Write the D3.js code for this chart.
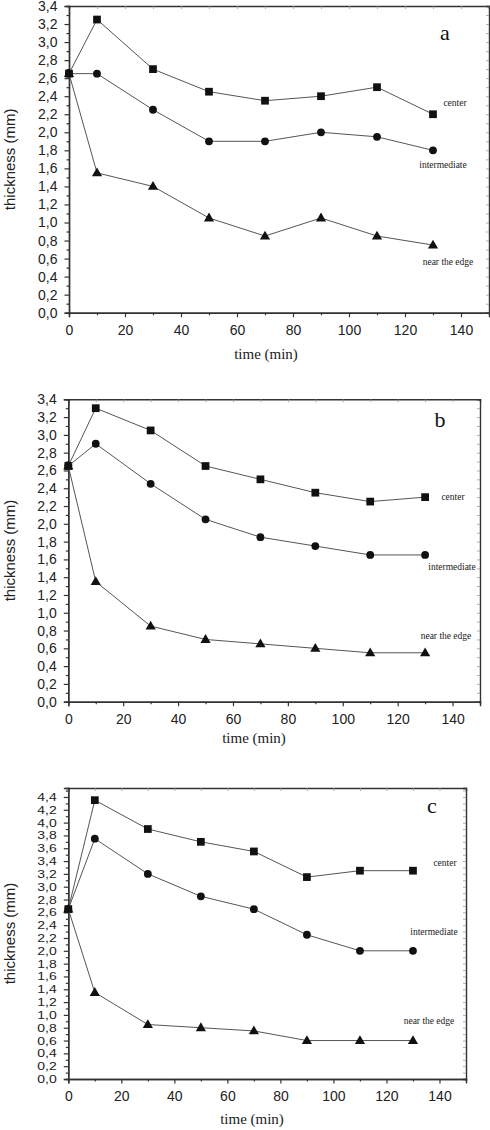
<!DOCTYPE html>
<html>
<head>
<meta charset="utf-8">
<script src="https://cdn.jsdelivr.net/npm/d3@7"></script>
<style>
body { margin: 0; background: #fff; }
svg { display: block; }
.ylab text, .xlab text { font-family: "Liberation Sans", Arial, sans-serif; font-size: 14px; fill: #222; }
.domain { stroke: #333; stroke-width: 1.4; }
.tick line { stroke: #333; stroke-width: 1.2; }
.faint .tick line { stroke: #999; stroke-width: 0.8; }
.serif { font-family: "Liberation Serif", "Times New Roman", serif; fill: #222; }
.sans { font-family: "Liberation Sans", Arial, sans-serif; fill: #222; }
</style>
</head>
<body>
<div id="chart"></div>
<script>
var svgWidth = 490;
var svgHeight = 1130;

// time points (min)
var times = [0, 10, 30, 50, 70, 90, 110, 130];

// panel a
var centerA = [2.65, 3.25, 2.7, 2.45, 2.35, 2.4, 2.5, 2.2];
var interA = [2.65, 2.65, 2.25, 1.9, 1.9, 2.0, 1.95, 1.8];
var edgeA = [2.65, 1.55, 1.4, 1.05, 0.85, 1.05, 0.85, 0.75];

// panel b
var centerB = [2.65, 3.3, 3.05, 2.65, 2.5, 2.35, 2.25, 2.3];
var interB = [2.65, 2.9, 2.45, 2.05, 1.85, 1.75, 1.65, 1.65];
var edgeB = [2.65, 1.35, 0.85, 0.7, 0.65, 0.6, 0.55, 0.55];

// panel c
var centerC = [2.65, 4.35, 3.9, 3.7, 3.55, 3.15, 3.25, 3.25];
var interC = [2.65, 3.75, 3.2, 2.85, 2.65, 2.25, 2.0, 2.0];
var edgeC = [2.65, 1.35, 0.85, 0.8, 0.75, 0.6, 0.6, 0.6];

var xTicks = [0, 20, 40, 60, 80, 100, 120, 140];
var seriesNames = ["center", "intermediate", "near the edge"];

var svg = d3.select("#chart")
  .append("svg")
  .attr("width", svgWidth)
  .attr("height", svgHeight);

var commaFmt = function(d) { return d3.format(".1f")(d).replace(".", ","); };

function drawPanel(p) {
  var x = d3.scaleLinear().domain([0, 150]).range([p.left, p.right]);
  var y = d3.scaleLinear().domain([0, p.ymax]).range([p.bottom, p.top]);

  var yMajor = d3.range(0, p.ylast + 0.001, 0.2).map(v => +v.toFixed(1));
  var yMinor = d3.range(0.1, p.ymax, 0.2).map(v => +v.toFixed(1));
  var yAll = d3.range(0, p.ymax, 0.1).map(v => +v.toFixed(1));
  var xMinor = d3.range(10, 150, 20);

  // frame: top and right with faint inward ticks
  svg.append("g")
    .attr("class", "faint")
    .attr("transform", `translate(0, ${p.top})`)
    .call(d3.axisTop(x).tickValues(d3.range(10, 150, 10)).tickSize(-3).tickFormat(""));
  svg.append("g")
    .attr("class", "faint")
    .attr("transform", `translate(${p.right}, 0)`)
    .call(d3.axisRight(y).tickValues(yAll.slice(1)).tickSize(-3).tickFormat(""));

  // minor ticks
  svg.append("g")
    .attr("transform", `translate(${p.left}, 0)`)
    .call(d3.axisLeft(y).tickValues(yMinor).tickSize(2.5).tickFormat(""));
  svg.append("g")
    .attr("transform", `translate(0, ${p.bottom})`)
    .call(d3.axisBottom(x).tickValues(xMinor).tickSize(2.5).tickFormat(""));

  // major axes
  var yAxis = svg.append("g")
    .attr("class", "ylab")
    .attr("transform", `translate(${p.left}, 0)`)
    .call(d3.axisLeft(y).tickValues(yMajor).tickSize(4.5).tickPadding(7).tickFormat(commaFmt));
  if (p.squash) {
    yAxis.selectAll(".tick text").attr("transform", `scale(1, ${p.squash})`);
  }
  svg.append("g")
    .attr("class", "xlab")
    .attr("transform", `translate(0, ${p.bottom})`)
    .call(d3.axisBottom(x).tickValues(xTicks).tickSize(4.5).tickPadding(8).tickFormat(d3.format("d")));

  // axis titles
  svg.append("text")
    .attr("class", "sans")
    .attr("transform", `translate(15, ${(p.top + p.bottom) / 2}) rotate(-90)`)
    .attr("text-anchor", "middle")
    .style("font-size", "15px")
    .text("thickness (mm)");

  svg.append("text")
    .attr("class", "serif")
    .attr("x", p.titleX)
    .attr("y", p.bottom + p.titleDy)
    .attr("text-anchor", "middle")
    .style("font-size", "15px")
    .text("time (min)");

  // panel letter
  svg.append("text")
    .attr("class", "serif")
    .attr("x", p.letterX)
    .attr("y", p.letterY)
    .attr("text-anchor", "middle")
    .style("font-size", "22px")
    .style("fill", "#111")
    .text(p.letter);

  var line = d3.line()
    .x((d, i) => x(times[i]))
    .y(d => y(d));

  var symbols = [d3.symbolSquare, d3.symbolCircle, d3.symbolTriangle];
  var sizes = [60, 48, 45];

  p.series.forEach(function(vals, k) {
    svg.append("path")
      .datum(vals)
      .attr("d", line)
      .attr("fill", "none")
      .attr("stroke", "#555")
      .attr("stroke-width", 1);

    svg.append("g").selectAll("path")
      .data(vals)
      .enter()
      .append("path")
      .attr("transform", (d, i) => `translate(${x(times[i])}, ${y(d) + (k === 2 ? 0.5 : 0)})`)
      .attr("d", d3.symbol().type(symbols[k]).size(sizes[k]))
      .attr("fill", "#111");

    svg.append("text")
      .attr("class", "serif")
      .attr("x", p.labels[k][0])
      .attr("y", p.labels[k][1])
      .attr("text-anchor", "middle")
      .attr("dy", "0.35em")
      .style("font-size", "9.5px")
      .text(seriesNames[k]);
  });
}

drawPanel({
  left: 69, right: 489, top: 6, bottom: 312.7, ymax: 3.4, ylast: 3.4,
  series: [centerA, interA, edgeA],
  letter: "a", letterX: 445, letterY: 40,
  titleX: 266, titleDy: 46,
  labels: [[455, 103], [443, 165], [448, 262]]
});

drawPanel({
  left: 68.3, right: 480, top: 399.3, bottom: 701.7, ymax: 3.4, ylast: 3.4,
  series: [centerB, interB, edgeB],
  letter: "b", letterX: 440, letterY: 427,
  titleX: 254, titleDy: 41,
  labels: [[453, 497], [452, 567], [446, 636]]
});

drawPanel({
  left: 68.3, right: 466, top: 788, bottom: 1079, ymax: 4.54, ylast: 4.4,
  series: [centerC, interC, edgeC],
  letter: "c", letterX: 432, letterY: 813, squash: 0.78,
  titleX: 252, titleDy: 45,
  labels: [[445, 863], [434, 932], [429, 1021]]
});
</script>
</body>
</html>
